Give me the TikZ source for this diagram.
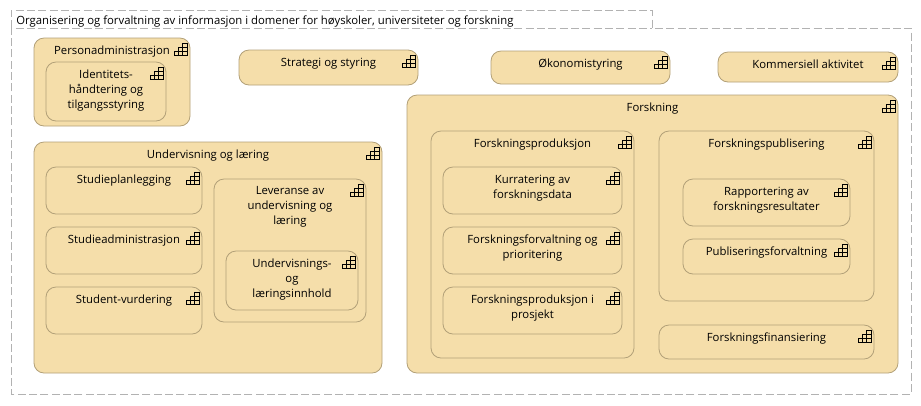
\documentclass[tikz,border=0pt]{standalone}
\usepackage{fontspec}
\setmainfont{Open Sans}
\usetikzlibrary{positioning}
\definecolor{funcFill}{RGB}{245, 222, 170}
\definecolor{funcLine}{RGB}{178, 160, 120}
\definecolor{groupLine}{RGB}{178, 178, 178}
\tikzset{
  funcbox/.style={draw=funcLine, fill=funcFill, line width=0.6pt, rounded corners=7.5pt, inner sep=0pt, outer sep=0pt},
  funclabel/.style={anchor=north, inner sep=0pt, align=center, font=\fontsize{8.5}{11.25}\selectfont},
  stairs/.pic={
    \draw[line width=0.6pt] (-13,-12) rectangle (0,-8) (-9,-8) rectangle (0,-4) (-4.5,-4) rectangle (0,0)
      (-9,-12) -- (-9,-8) (-4.5,-12) -- (-4.5,-4);
  }
}
% box from its corners, in pixels of the screenshot
\newcommand{\funcnode}[6]{
  \node[funcbox, minimum width={(#4-#2)*0.75pt}, minimum height={(#5-#3)*0.75pt}] (#1) at ({(#2+#4)/2},{-(#3+#5)/2}) {};
  \node[funclabel] (#1text) at ({(#2+#4)/2},{-#3-7.5}) {#6};
  \pic[shift={(-3,-5)}] at (#1.north east) {stairs};
}
\begin{document}
\begin{tikzpicture}[x=0.75pt, y=0.75pt]
  \useasboundingbox (0,0) rectangle (921,-405);
  % group frame
  \draw[groupLine, line width=0.6pt, dash pattern=on 6pt off 2.5pt] (11,-28) -- (11,-10) -- (652,-10) -- (652,-28) -- (911,-28) -- (911,-394) -- (11,-394) -- (11,-28) -- (652,-28);
  \node[anchor=west, inner sep=0pt, font=\fontsize{8.5}{11.25}\selectfont] (grouptitle) at (16,-21.5) {Organisering og forvaltning av informasjon i domener for høyskoler, universiteter og forskning};

  \funcnode{pers}{34}{38}{190}{126}{Personadministrasjon}
  \funcnode{ident}{46}{62}{166}{121}{Identitets-\\håndtering og\\tilgangsstyring}
  \funcnode{strategi}{239}{50}{418}{85}{Strategi og styring}
  \funcnode{okonomi}{491}{51}{670}{84}{Økonomistyring}
  \funcnode{kommers}{718}{52}{898}{82}{Kommersiell aktivitet}

  \funcnode{underv}{34}{142}{382}{373}{Undervisning og læring}
  \funcnode{studplan}{46}{167}{202}{214}{Studieplanlegging}
  \funcnode{studadm}{46}{227}{202}{274}{Studieadministrasjon}
  \funcnode{studvur}{46}{287}{202}{334}{Student-vurdering}
  \funcnode{lever}{214}{179}{366}{322}{Leveranse av\\undervisning og\\læring}
  \funcnode{innhold}{226}{251}{358}{310}{Undervisnings-\\og\\læringsinnhold}

  \funcnode{forsk}{407}{95}{898}{373}{Forskning}
  \funcnode{prod}{431}{131}{634}{358}{Forskningsproduksjon}
  \funcnode{kurr}{443}{167}{622}{214}{Kurratering av\\forskningsdata}
  \funcnode{forv}{443}{227}{622}{274}{Forskningsforvaltning og\\prioritering}
  \funcnode{prosj}{443}{287}{622}{334}{Forskningsproduksjon i\\prosjekt}
  \funcnode{publ}{659}{131}{874}{301}{Forskningspublisering}
  \funcnode{rapp}{683}{179}{850}{226}{Rapportering av\\forskningsresultater}
  \funcnode{pubforv}{683}{239}{850}{274}{Publiseringsforvaltning}
  \funcnode{finans}{659}{325}{874}{359}{Forskningsfinansiering}
\end{tikzpicture}
\end{document}
